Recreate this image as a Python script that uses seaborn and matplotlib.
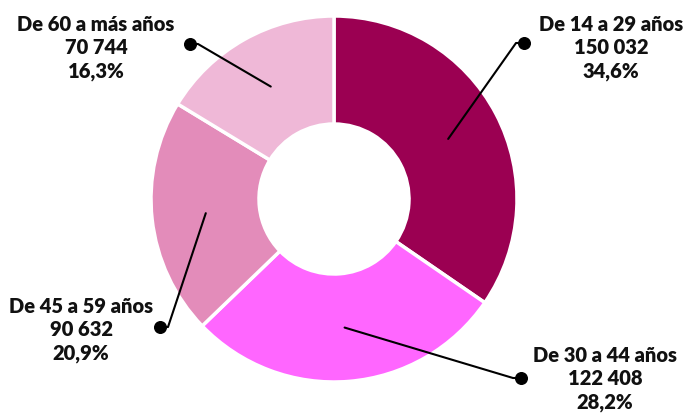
import numpy as np
import matplotlib
matplotlib.use("Agg")
import matplotlib.pyplot as plt
import seaborn as sns

sns.set_theme(style="white")
plt.rcParams['font.family'] = ['Lato', 'DejaVu Sans']

groups = ["De 14 a 29 años", "De 30 a 44 años", "De 45 a 59 años", "De 60 a más años"]
counts = [150032, 122408, 90632, 70744]
count_labels = ["150 032", "122 408", "90 632", "70 744"]
pct_labels = ["34,6%", "28,2%", "20,9%", "16,3%"]
colors = ["#9B0052", "#FF66FF", "#E38CBA", "#EFB8D7"]

# label anchor (dot) and text centre, in pixel coords (y from top)
dot_pos = [(524, 44), (521, 379), (160, 328), (190, 45)]
text_pos = [(611, 48), (605, 379), (81, 330), (96, 48)]

W, H = 684, 414
cx, cy, R = 334, 200, 183

fig = plt.figure(figsize=(6.84, 4.14), dpi=100)
ax = fig.add_axes([0, 0, 1, 1])

wedges, _ = ax.pie(counts, colors=colors, startangle=90, counterclock=False,
                   radius=R, center=(cx, H - cy),
                   wedgeprops=dict(width=R - 75, edgecolor="white", linewidth=2.5))

for w, (dx, dy), (tx, ty), g, c, p in zip(wedges, dot_pos, text_pos, groups, count_labels, pct_labels):
    mid = np.deg2rad((w.theta1 + w.theta2) / 2)
    px = cx + 129 * np.cos(mid)
    py = (H - cy) + 129 * np.sin(mid)
    kx = dx - 8 if dx > cx else dx + 8
    ax.plot([px, kx, dx], [py, H - dy, H - dy], color="black", lw=1.5,
            solid_capstyle="round", zorder=3)
    ax.scatter([dx], [H - dy], s=70, color="black", zorder=4)
    ax.text(tx, H - ty, f"{g}\n{c}\n{p}", ha="center", va="center",
            fontsize=14.5, fontweight="heavy", color="#111111", linespacing=1.28)

ax.set_xlim(0, W)
ax.set_ylim(0, H)
ax.set_aspect("equal")
ax.axis("off")

fig.savefig("out.png", dpi=100)
